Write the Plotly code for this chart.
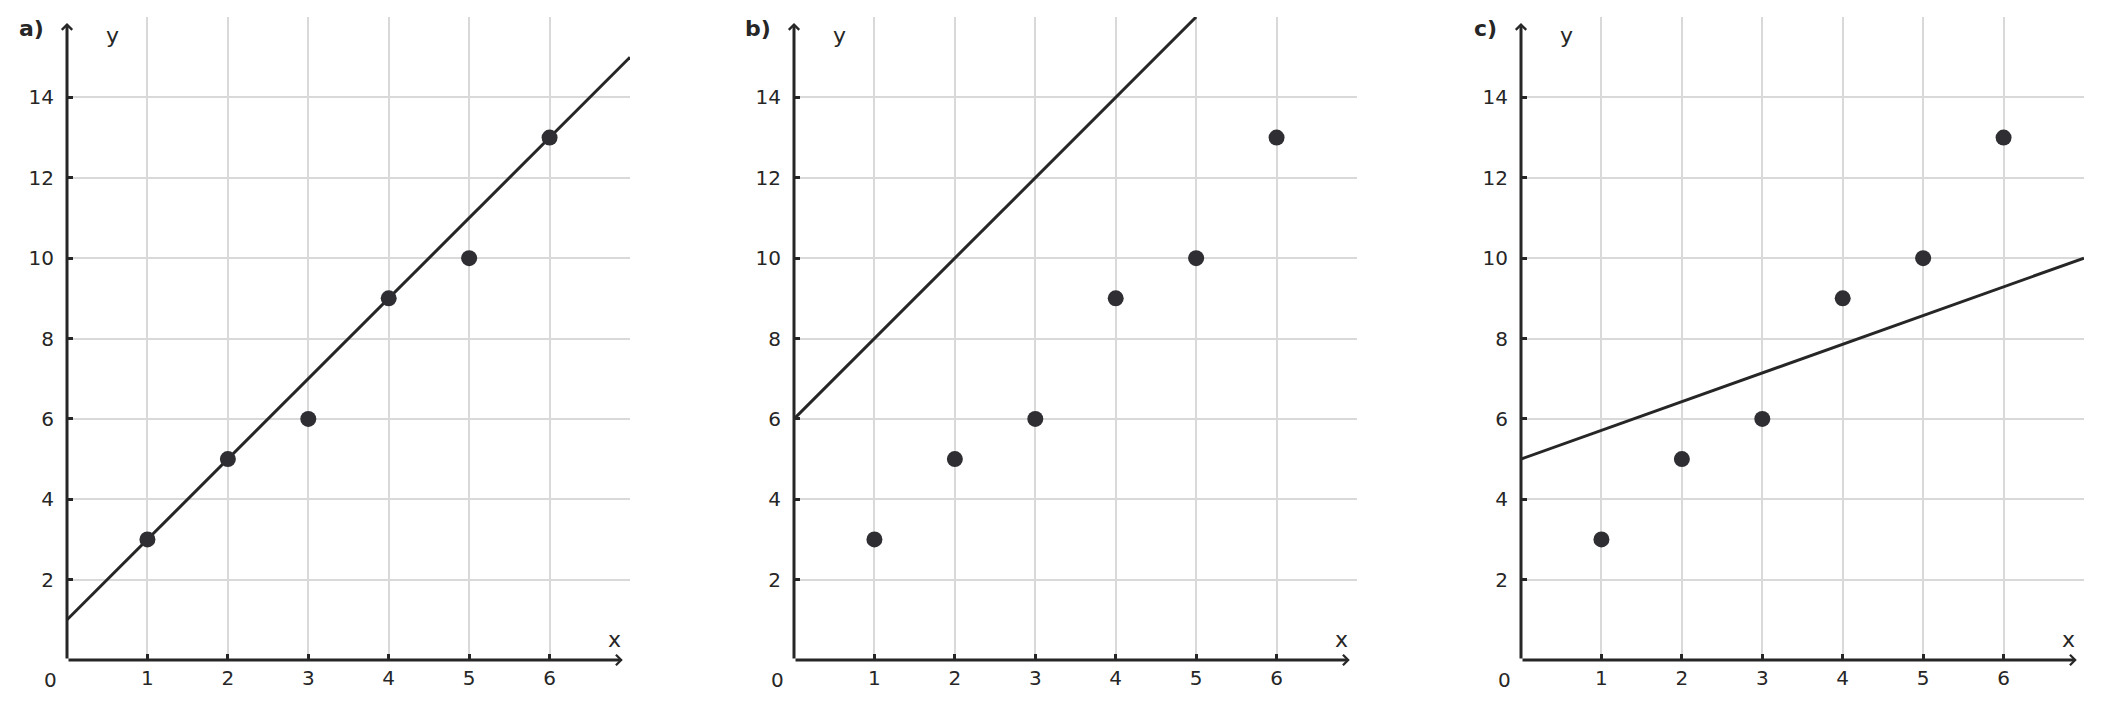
import plotly.graph_objects as go
from plotly.subplots import make_subplots

# data
points_x = [1, 2, 3, 4, 5, 6]
points_y = [3, 5, 6, 9, 10, 13]

panel_labels = ["a)", "b)", "c)"]

# end points of the straight line in each panel
line_a_x = [0, 7]
line_a_y = [1, 15]
line_b_x = [0, 5]
line_b_y = [6, 16]
line_c_x = [0, 7]
line_c_y = [5, 10]

x_ticks = [0, 1, 2, 3, 4, 5, 6]
x_ticktext = ["", "1", "2", "3", "4", "5", "6"]
y_ticks = [0, 2, 4, 6, 8, 10, 12, 14]
y_ticktext = ["", "2", "4", "6", "8", "10", "12", "14"]

DARK = "#262626"
DOT = "#2e2e33"
GRID = "#d9d9d9"
FONT = "DejaVu Sans"

# the page has an 8px body margin, so the figure is a bit smaller than the window
OFF = 8
W, H = 2102 - 2 * OFF, 709 - 2 * OFF


def px(x):
    return (x - OFF) / W


def py(y):
    return 1 - (y - OFF) / H


fig = make_subplots(rows=1, cols=3)

lines = [(line_a_x, line_a_y), (line_b_x, line_b_y), (line_c_x, line_c_y)]
for i, (lx, ly) in enumerate(lines):
    col = i + 1
    fig.add_trace(go.Scatter(x=lx, y=ly, mode="lines",
                             line=dict(color=DARK, width=3),
                             showlegend=False, hoverinfo="skip"), row=1, col=col)
    fig.add_trace(go.Scatter(x=points_x, y=points_y, mode="markers",
                             marker=dict(color=DOT, size=16),
                             showlegend=False), row=1, col=col)

# window pixel layout of the three panels
left_px = [67, 794, 1521]
panel_w = 563
top_px, bottom_px = 17, 660

axis_style = dict(showline=False, zeroline=False, showgrid=True,
                  gridcolor=GRID, gridwidth=2,
                  ticks="inside", ticklen=6, tickwidth=2.5, tickcolor=DARK,
                  tickfont=dict(family=FONT, size=20, color=DARK),
                  fixedrange=True)


def label(x, y, text, size, bold=False):
    if bold:
        text = "<b>" + text + "</b>"
    return dict(xref="paper", yref="paper", x=px(x), y=py(y), text=text,
                showarrow=False, xanchor="center", yanchor="middle",
                font=dict(family=FONT, size=size, color=DARK))


annotations = []
for i in range(3):
    n = "" if i == 0 else str(i + 1)
    xa = "x" + n
    ya = "y" + n
    x0 = left_px[i]
    fig.layout["xaxis" + n].update(
        domain=[px(x0), px(x0 + panel_w)],
        range=[0, 7], tickvals=x_ticks, ticktext=x_ticktext,
        ticklabelstandoff=4, **axis_style)
    fig.layout["yaxis" + n].update(
        domain=[py(bottom_px), py(top_px)], range=[0, 16],
        tickvals=y_ticks, ticktext=y_ticktext,
        ticklabelstandoff=12, **axis_style)

    # axis arrows
    annotations.append(dict(xref=xa, yref=ya, axref=xa, ayref=ya,
                            x=0, y=15.85, ax=0, ay=0, text="",
                            showarrow=True, arrowhead=4, arrowwidth=3,
                            arrowsize=0.67, arrowcolor=DARK, standoff=0))
    annotations.append(dict(xref=xa, yref=ya, axref=xa, ayref=ya,
                            x=6.91, y=0, ax=0, ay=0, text="",
                            showarrow=True, arrowhead=4, arrowwidth=3,
                            arrowsize=0.67, arrowcolor=DARK, standoff=0))
    # axis names, origin and panel letter
    annotations.append(label(x0 + 45, 35, "y", 22))
    annotations.append(label(x0 + 547, 639, "x", 22))
    annotations.append(label(x0 - 17, 680, "0", 20))
    annotations.append(label(x0 - 36, 29, panel_labels[i], 22, bold=True))

fig.update_layout(width=W, height=H, margin=dict(l=0, r=0, t=0, b=0),
                  paper_bgcolor="white", plot_bgcolor="white",
                  annotations=annotations, showlegend=False)

fig.write_html("out.html")
